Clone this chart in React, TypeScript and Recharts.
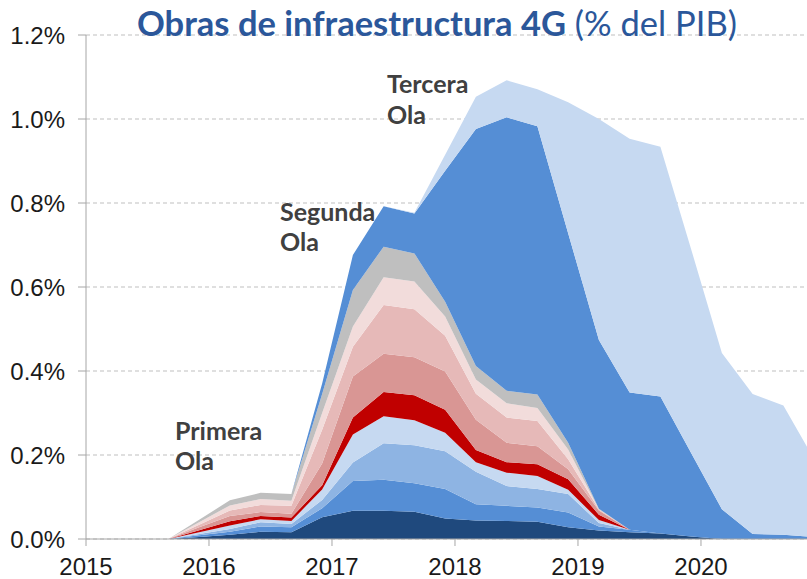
import React from 'react';
import { AreaChart, Area, XAxis, YAxis, CartesianGrid } from 'recharts';

// quarter points (fraction of year), % of GDP per wave / project group
const periods = [
  2015.67, 2015.92, 2016.17, 2016.42, 2016.67, 2016.92, 2017.17, 2017.42, 2017.67, 2017.92, 2018.17,
  2018.42, 2018.67, 2018.92, 2019.17, 2019.42, 2019.67, 2019.92, 2020.17, 2020.42, 2020.67, 2020.92,
];
const navy = [0, 0.005, 0.01, 0.017, 0.016, 0.052, 0.067, 0.067, 0.065, 0.049, 0.044, 0.043, 0.041, 0.028, 0.02, 0.016, 0.013, 0.006, 0, 0, 0, 0];
const midBlue = [0, 0.004, 0.007, 0.013, 0.012, 0.021, 0.071, 0.074, 0.068, 0.07, 0.039, 0.036, 0.034, 0.035, 0.01, 0.006, 0, 0, 0, 0, 0, 0];
const softBlue = [0, 0.003, 0.007, 0.01, 0.008, 0.02, 0.044, 0.087, 0.09, 0.09, 0.077, 0.047, 0.044, 0.044, 0.008, 0, 0, 0, 0, 0, 0, 0];
const paleBlue = [0, 0.004, 0.008, 0.007, 0.007, 0.025, 0.067, 0.064, 0.06, 0.044, 0.023, 0.032, 0.031, 0.01, 0.007, 0, 0, 0, 0, 0, 0, 0];
const red = [0, 0.005, 0.01, 0.008, 0.008, 0.01, 0.04, 0.058, 0.059, 0.055, 0.029, 0.025, 0.028, 0.025, 0.013, 0, 0, 0, 0, 0, 0, 0];
const salmon = [0, 0.007, 0.013, 0.009, 0.009, 0.052, 0.098, 0.091, 0.091, 0.091, 0.072, 0.046, 0.043, 0.024, 0.01, 0, 0, 0, 0, 0, 0, 0];
const pink = [0, 0.006, 0.013, 0.017, 0.019, 0.08, 0.071, 0.116, 0.114, 0.085, 0.062, 0.06, 0.06, 0.024, 0.002, 0, 0, 0, 0, 0, 0, 0];
const palePink = [0, 0.006, 0.012, 0.014, 0.012, 0.04, 0.048, 0.066, 0.066, 0.046, 0.034, 0.034, 0.031, 0.023, 0.001, 0, 0, 0, 0, 0, 0, 0];
const grey = [0, 0.006, 0.012, 0.015, 0.016, 0.045, 0.087, 0.073, 0.067, 0.035, 0.032, 0.03, 0.032, 0.016, 0.001, 0, 0, 0, 0, 0, 0, 0];
const tercera = [0, 0, 0, 0, 0, 0.025, 0.083, 0.096, 0.095, 0.312, 0.564, 0.651, 0.639, 0.499, 0.402, 0.327, 0.326, 0.199, 0.071, 0.012, 0.01, 0.005];
const ultima = [0, 0, 0, 0, 0, 0, 0, 0, 0.002, 0.038, 0.077, 0.088, 0.088, 0.312, 0.526, 0.604, 0.595, 0.485, 0.372, 0.333, 0.308, 0.185];

const years = [2015, 2016, 2017, 2018, 2019, 2020];
const yTicks = [0, 0.2, 0.4, 0.6, 0.8, 1.0, 1.2];

const layers = [
  { key: 'navy', values: navy, color: '#1F497D' },
  { key: 'midBlue', values: midBlue, color: '#558ED5' },
  { key: 'softBlue', values: softBlue, color: '#8EB4E3' },
  { key: 'paleBlue', values: paleBlue, color: '#C6D9F1' },
  { key: 'red', values: red, color: '#C00000' },
  { key: 'salmon', values: salmon, color: '#D99694' },
  { key: 'pink', values: pink, color: '#E6B9B8' },
  { key: 'palePink', values: palePink, color: '#F2DCDB' },
  { key: 'grey', values: grey, color: '#BFBFBF' },
  { key: 'tercera', values: tercera, color: '#558ED5' },
  { key: 'ultima', values: ultima, color: '#C6D9F1' },
];

const data = periods.map((t, i) => {
  const row: Record<string, number> = { t };
  layers.forEach((l) => (row[l.key] = l.values[i]));
  return row;
});

const axisFont = { fontSize: 24, fontFamily: '"Liberation Sans", Arial, sans-serif', fill: '#1a1a1a' };
const noteStyle = { fontFamily: 'Lato, sans-serif', fontWeight: 700, fontSize: 25, fill: '#404040' };

export default function App() {
  return (
    <div style={{ position: 'absolute', left: 0, top: 0, width: 807, height: 579, background: '#fff', overflow: 'hidden' }}>
      <AreaChart width={807} height={579} data={data} margin={{ top: 35, right: 0, bottom: 0, left: 0 }}>
        <CartesianGrid vertical={false} stroke="#BFBFBF" strokeDasharray="4 3" />
        <XAxis
          dataKey="t"
          type="number"
          domain={[2015, 2020.862]}
          allowDataOverflow
          ticks={years}
          tickFormatter={(v) => String(v)}
          tick={axisFont}
          tickSize={7}
          tickMargin={12}
          height={40}
          stroke="#A6A6A6"
        />
        <YAxis
          domain={[0, 1.2]}
          ticks={yTicks}
          tickFormatter={(v) => v.toFixed(1) + '%'}
          tick={axisFont}
          tickSize={8}
          tickMargin={13}
          width={86}
          stroke="#A6A6A6"
        />
        {layers.map((l) => (
          <Area
            key={l.key}
            dataKey={l.key}
            stackId="1"
            type="linear"
            stroke="none"
            fill={l.color}
            fillOpacity={1}
            dot={false}
            activeDot={false}
            isAnimationActive={false}
          />
        ))}
      </AreaChart>
      <svg width={807} height={579} style={{ position: 'absolute', left: 0, top: 0, pointerEvents: 'none' }}>
        <text x={137} y={36} style={{ fontFamily: 'Lato, sans-serif', fontSize: 34.5 }} fill="#2B579A">
          <tspan fontWeight={700}>Obras de infraestructura 4G</tspan>
          <tspan fontWeight={400}> (% del PIB)</tspan>
        </text>
        <text x={175} style={noteStyle}>
          <tspan x={175} y={440}>Primera</tspan>
          <tspan x={175} y={470}>Ola</tspan>
        </text>
        <text x={280} style={noteStyle}>
          <tspan x={280} y={221}>Segunda</tspan>
          <tspan x={280} y={251}>Ola</tspan>
        </text>
        <text x={387} style={noteStyle}>
          <tspan x={387} y={93}>Tercera</tspan>
          <tspan x={387} y={124}>Ola</tspan>
        </text>
      </svg>
    </div>
  );
}
